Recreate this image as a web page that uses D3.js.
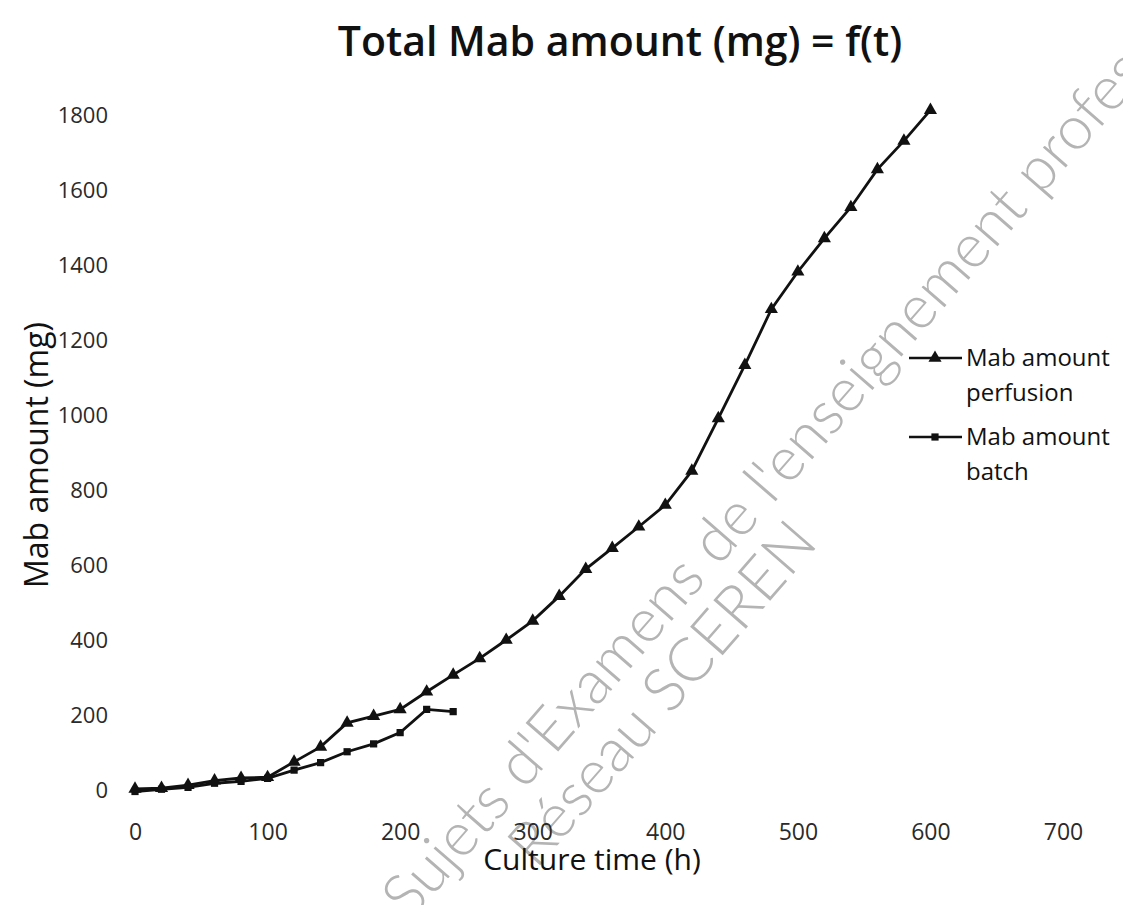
<!DOCTYPE html>
<html>
<head>
<meta charset="utf-8">
<script src="https://cdn.jsdelivr.net/npm/d3@7"></script>
<style>
  html, body { margin: 0; padding: 0; background: #fff; }
  svg { display: block; }
  .tick text { font-family: "Open Sans", sans-serif; fill: #2a2a2a; }
</style>
</head>
<body>
<svg id="chart" width="1123" height="905"></svg>
<script>
// culture time (h), sampled every 20 h
var timePerfusion = [0, 20, 40, 60, 80, 100, 120, 140, 160, 180, 200, 220, 240, 260, 280, 300,
  320, 340, 360, 380, 400, 420, 440, 460, 480, 500, 520, 540, 560, 580, 600];
var mabPerfusion = [3, 5, 13, 25, 32, 34, 75, 115, 179, 197, 215, 262, 307, 351, 400, 451,
  517, 589, 645, 702, 760, 851, 991, 1133, 1282, 1382, 1471, 1554, 1655, 1731, 1813];

var timeBatch = [0, 20, 40, 60, 80, 100, 120, 140, 160, 180, 200, 220, 240];
var mabBatch = [-4, 2, 7, 18, 23, 31, 53, 73, 102, 123, 153, 215, 209];

var xTicks = [0, 100, 200, 300, 400, 500, 600, 700];
var yTicks = [0, 200, 400, 600, 800, 1000, 1200, 1400, 1600, 1800];

var legendLabels = [["Mab amount", "perfusion"], ["Mab amount", "batch"]];

var svg = d3.select("#chart");

// watermark, behind everything
var wm = svg.append("g")
  .attr("fill", "#b4b4b4")
  .style("font-family", "Lato, sans-serif")
  .style("font-weight", 300)
  .style("font-size", "61px");
wm.append("text")
  .attr("transform", "translate(410,922) rotate(-49)")
  .text("Sujets d'Examens de l'enseignement professionnel");
wm.append("text")
  .attr("transform", "translate(536,870) rotate(-49)")
  .text("Réseau SCEREN");

var x = d3.scaleLinear().domain([0, 700]).range([135, 1063]);
var y = d3.scaleLinear().domain([0, 1800]).range([790, 115]);

// axes, no lines, labels only
var xAxis = svg.append("g")
  .attr("transform", "translate(0," + y(0) + ")")
  .call(d3.axisBottom(x).tickValues(xTicks).tickSize(0).tickPadding(34).tickFormat(d3.format("d")));
xAxis.select(".domain").remove();
xAxis.selectAll("text").style("font-size", "23px");

var yAxis = svg.append("g")
  .attr("transform", "translate(" + x(0) + ",0)")
  .call(d3.axisLeft(y).tickValues(yTicks).tickSize(0).tickPadding(27).tickFormat(d3.format("d")));
yAxis.select(".domain").remove();
yAxis.selectAll("text").style("font-size", "22px");

// titles
svg.append("text")
  .attr("x", 620).attr("y", 56)
  .attr("text-anchor", "middle")
  .style("font-family", "Open Sans, sans-serif")
  .style("font-weight", 600)
  .style("font-size", "41px")
  .attr("fill", "#111")
  .text("Total Mab amount (mg) = f(t)");

svg.append("text")
  .attr("x", 592).attr("y", 870)
  .attr("text-anchor", "middle")
  .style("font-family", "Open Sans, sans-serif")
  .style("font-size", "30px")
  .attr("fill", "#111")
  .text("Culture time (h)");

svg.append("text")
  .attr("transform", "translate(48,455) rotate(-90)")
  .attr("text-anchor", "middle")
  .style("font-family", "Open Sans, sans-serif")
  .style("font-size", "32px")
  .attr("fill", "#111")
  .text("Mab amount (mg)");

var line = d3.line()
  .x(function (d) { return x(d[0]); })
  .y(function (d) { return y(d[1]); });

var perfusion = d3.zip(timePerfusion, mabPerfusion);
var batch = d3.zip(timeBatch, mabBatch);

var tri = d3.symbol().type(d3.symbolTriangle).size(75);
var sq = d3.symbol().type(d3.symbolSquare).size(52);

svg.append("path")
  .datum(batch)
  .attr("d", line)
  .attr("fill", "none")
  .attr("stroke", "#111")
  .attr("stroke-width", 2.8);

svg.selectAll(".mk-batch")
  .data(batch)
  .enter()
  .append("path")
  .attr("class", "mk-batch")
  .attr("d", sq)
  .attr("transform", function (d) { return "translate(" + x(d[0]) + "," + y(d[1]) + ")"; })
  .attr("fill", "#111");

svg.append("path")
  .datum(perfusion)
  .attr("d", line)
  .attr("fill", "none")
  .attr("stroke", "#111")
  .attr("stroke-width", 2.8);

svg.selectAll(".mk-perf")
  .data(perfusion)
  .enter()
  .append("path")
  .attr("class", "mk-perf")
  .attr("d", tri)
  .attr("transform", function (d) { return "translate(" + x(d[0]) + "," + y(d[1]) + ")"; })
  .attr("fill", "#111");

// legend
var legend = svg.append("g")
  .style("font-family", "Open Sans, sans-serif")
  .style("font-size", "24px");

legendLabels.forEach(function (lab, i) {
  var ly = 358 + i * 79;
  legend.append("line")
    .attr("x1", 909).attr("x2", 962)
    .attr("y1", ly).attr("y2", ly)
    .attr("stroke", "#111")
    .attr("stroke-width", 2.4);
  legend.append("path")
    .attr("d", i === 0 ? tri : sq)
    .attr("transform", "translate(935," + ly + ")")
    .attr("fill", "#111");
  lab.forEach(function (t, j) {
    legend.append("text")
      .attr("x", 966)
      .attr("y", ly + j * 35)
      .attr("dy", "0.35em")
      .attr("fill", "#111")
      .text(t);
  });
});
</script>
</body>
</html>
